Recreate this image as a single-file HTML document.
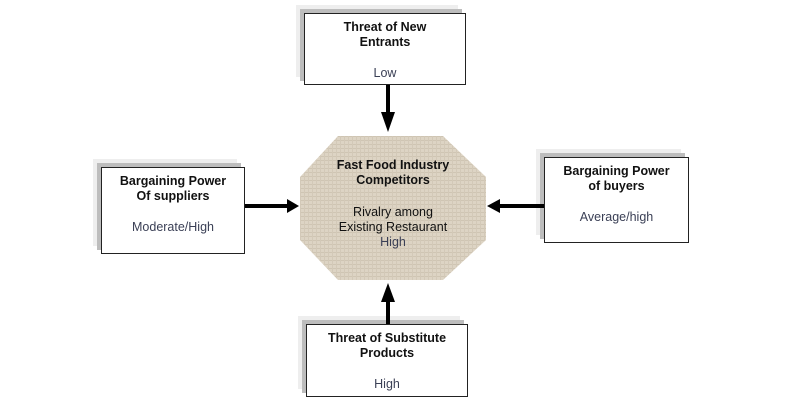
<!DOCTYPE html>
<html><head><meta charset="utf-8"><style>
body{margin:0;width:791px;height:410px;background:#fff;position:relative;overflow:hidden;font-family:"Liberation Sans",Arial,sans-serif;}
.box{position:absolute;background:#fff;border:1px solid #222;box-sizing:border-box;text-align:center;font-size:12.5px;line-height:15px;padding-top:6px;box-shadow:-4px -4px 0 #bdbdbd,-8px -8px 0 #eeeeee;}
.b{font-weight:bold;color:#111;}
.v{color:#3a3f55;margin-top:16px;}
.oct{position:absolute;left:300px;top:136px;width:186px;height:144px;text-align:center;font-size:12.5px;line-height:15px;}
</style></head><body>
<svg width="791" height="410" style="position:absolute;left:0;top:0">
<defs>
<pattern id="p" width="4" height="4" patternUnits="userSpaceOnUse">
<rect width="4" height="4" fill="#ddd4c4"/>
<rect width="4" height="1" fill="#cfc5b3"/>
<rect width="1" height="4" fill="#d3c9b8"/>
</pattern>
</defs>
<polygon points="338,136 443,136 486,177 486,240 443,280 338,280 300,240 300,177" fill="url(#p)"/>
</svg>
<div class="box" style="left:304px;top:13px;width:162px;height:72px"><div class="b">Threat of New<br>Entrants</div><div class="v">Low</div></div>
<div class="box" style="left:101px;top:167px;width:144px;height:87px"><div class="b">Bargaining Power<br>Of suppliers</div><div class="v">Moderate/High</div></div>
<div class="box" style="left:544px;top:157px;width:145px;height:86px"><div class="b">Bargaining Power<br>of buyers</div><div class="v">Average/high</div></div>
<div class="box" style="left:306px;top:324px;width:162px;height:73px"><div class="b">Threat of Substitute<br>Products</div><div class="v">High</div></div>
<div class="oct"><div class="b" style="margin-top:22px">Fast Food Industry<br>Competitors</div><div style="margin-top:17px;color:#111">Rivalry among<br>Existing Restaurant<br><span style="color:#3a3f55">High</span></div></div>
<svg width="791" height="410" style="position:absolute;left:0;top:0">
<g fill="#000">
<rect x="386" y="85" width="4" height="28"/>
<polygon points="381,112 395,112 388,132"/>
<rect x="245" y="204" width="44" height="4"/>
<polygon points="287,199 287,213 299,206"/>
<rect x="498" y="204" width="46" height="4"/>
<polygon points="500,199 500,213 487,206"/>
<rect x="386" y="300" width="4" height="24"/>
<polygon points="381,302 395,302 388,283"/>
</g>
</svg>
</body></html>
